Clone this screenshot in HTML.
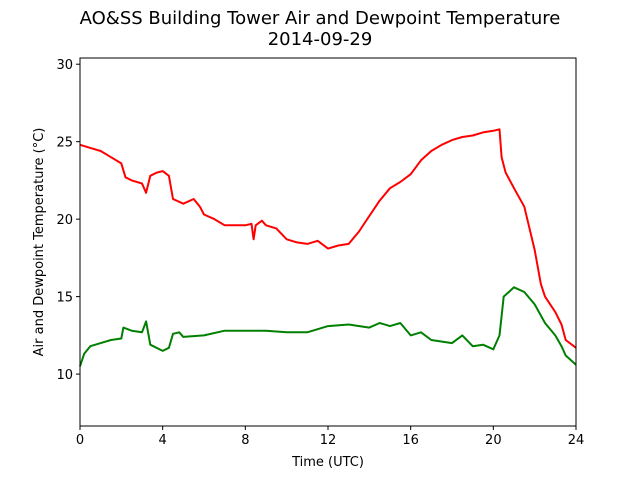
<!DOCTYPE html>
<html><head><meta charset="utf-8"><style>
body{margin:0;background:#fff}
svg{display:block;font-family:"DejaVu Sans","Liberation Sans",sans-serif}
</style></head><body>
<svg id="chart" width="640" height="480" viewBox="0 0 640 480">
<rect width="640" height="480" fill="#fff"/>
<text x="320" y="24" font-size="18" text-anchor="middle">AO&amp;SS Building Tower Air and Dewpoint Temperature</text>
<text x="320" y="45" font-size="18" text-anchor="middle">2014-09-29</text>
<g id="plot"></g>
<text x="328" y="466" font-size="13" text-anchor="middle">Time (UTC)</text>
<text transform="translate(43,242) rotate(-90)" font-size="13" text-anchor="middle">Air and Dewpoint Temperature (°C)</text>
</svg>
<script>
const xTicks=[0,4,8,12,16,20,24];
const yTicks=[10,15,20,25,30];
const airHours=[0,0.5,1,1.5,2,2.2,2.5,3,3.2,3.4,3.7,4,4.3,4.5,5,5.5,5.8,6,6.5,7,7.5,8,8.3,8.4,8.5,8.8,9,9.5,10,10.5,11,11.5,12,12.5,13,13.5,14,14.5,15,15.5,16,16.5,17,17.5,18,18.5,19,19.5,20,20.3,20.4,20.6,21,21.5,22,22.3,22.5,23,23.3,23.5,24];
const airTemp=[24.8,24.6,24.4,24.0,23.6,22.7,22.5,22.3,21.7,22.8,23.0,23.1,22.8,21.3,21.0,21.3,20.8,20.3,20.0,19.6,19.6,19.6,19.7,18.7,19.6,19.9,19.6,19.4,18.7,18.5,18.4,18.6,18.1,18.3,18.4,19.2,20.2,21.2,22.0,22.4,22.9,23.8,24.4,24.8,25.1,25.3,25.4,25.6,25.7,25.8,24.0,23.0,22.0,20.8,18.0,15.8,15.0,14.0,13.2,12.2,11.7];
const dewHours=[0,0.2,0.5,1,1.5,2,2.1,2.5,3,3.2,3.4,4,4.3,4.5,4.8,5,6,7,8,9,10,11,12,13,14,14.5,15,15.5,16,16.5,17,18,18.5,19,19.5,20,20.3,20.5,21,21.5,22,22.5,23,23.3,23.5,24];
const dewTemp=[10.5,11.3,11.8,12.0,12.2,12.3,13.0,12.8,12.7,13.4,11.9,11.5,11.7,12.6,12.7,12.4,12.5,12.8,12.8,12.8,12.7,12.7,13.1,13.2,13.0,13.3,13.1,13.3,12.5,12.7,12.2,12.0,12.5,11.8,11.9,11.6,12.5,15.0,15.6,15.3,14.5,13.3,12.5,11.8,11.2,10.6];
const L=80,R=576,T=58,B=426,yMin=6.65,yMax=30.4;
const xs=h=>L+(h/24)*(R-L);
const ys=v=>B-(v-yMin)/(yMax-yMin)*(B-T);
const NS="http://www.w3.org/2000/svg";
const g=document.getElementById('plot');
function mk(t,a){const e=document.createElementNS(NS,t);for(const k in a)e.setAttribute(k,a[k]);g.appendChild(e);return e;}
function line(hs,vs,c,name){
 const p=mk('polyline',{points:hs.map((h,i)=>xs(h).toFixed(1)+','+ys(vs[i]).toFixed(1)).join(' '),fill:'none',stroke:c,'stroke-width':2,'stroke-linejoin':'round'});
 
 
}
line(airHours,airTemp,'#ff0000','air-temperature-line');
line(dewHours,dewTemp,'#008000','dewpoint-temperature-line');
const fr=mk('rect',{x:L,y:T,width:R-L,height:B-T,fill:'none',stroke:'#000','stroke-width':1});


xTicks.forEach(t=>{
 const x=xs(t);
 mk('line',{x1:x,x2:x,y1:B,y2:B+4,stroke:'#000'});
 const tx=mk('text',{x:x,y:B+18,'font-size':13,'text-anchor':'middle'});tx.textContent=t;
 
 
});
yTicks.forEach(t=>{
 const y=ys(t);
 mk('line',{x1:L-4,x2:L,y1:y,y2:y,stroke:'#000'});
 const tx=mk('text',{x:L-7,y:y+5,'font-size':13,'text-anchor':'end'});tx.textContent=t;
 
 
});
</script>
</body></html>
